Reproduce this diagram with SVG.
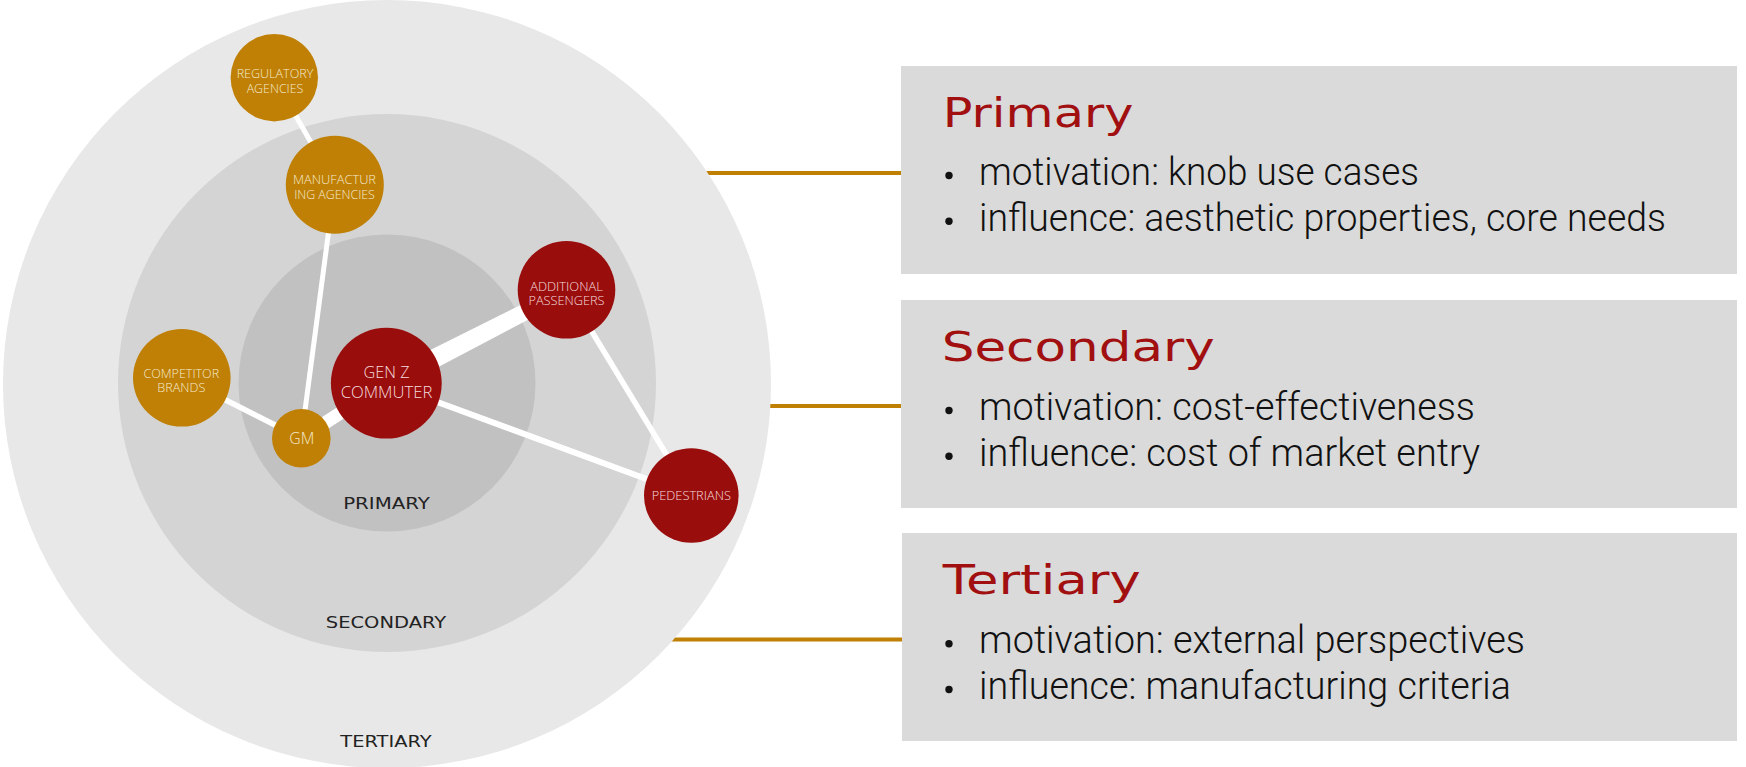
<svg xmlns="http://www.w3.org/2000/svg" width="1746" height="767" viewBox="0 0 1746 767">
<style>
.lead{stroke:#C08004;stroke-width:4;fill:none}
.conn{stroke:#ffffff;stroke-linecap:butt;fill:none}
.ring-label{font-family:"DejaVu Sans",sans-serif;font-size:15px;fill:#222222;text-anchor:middle}
.orange{fill:#BF8005}
.red{fill:#9A0D0D}
.nl{font-family:"Open Sans","Noto Sans",sans-serif;font-weight:300;font-size:12.6px;text-anchor:middle}
.on{fill:#F6E9CC}
.rn{fill:#F5DCDC}
.box{fill:#DADADA}
.title{font-family:"DejaVu Sans",sans-serif;font-size:40px;fill:#A10F10}
.bul{font-family:Roboto,"Open Sans",sans-serif;font-weight:300;font-size:38px;fill:#111111}
.dot{fill:#111111}
</style>

<g id="leaders">
<line class="lead" x1="600" y1="173" x2="902" y2="173"/>
<line class="lead" x1="600" y1="406" x2="902" y2="406"/>
<line class="lead" x1="600" y1="639.5" x2="902" y2="639.5"/>
</g>

<g id="rings">
<circle cx="387" cy="384" r="384" fill="#E8E8E8"/>
<circle cx="387" cy="383" r="269" fill="#D4D4D4"/>
<circle cx="387" cy="383" r="148.5" fill="#C2C1C2"/>
<text class="ring-label" x="386.5" y="509.3" textLength="86.7" lengthAdjust="spacingAndGlyphs">PRIMARY</text>
<text class="ring-label" x="386" y="627.7" textLength="120.3" lengthAdjust="spacingAndGlyphs">SECONDARY</text>
<text class="ring-label" x="386" y="746.7" textLength="91.3" lengthAdjust="spacingAndGlyphs">TERTIARY</text>
</g>

<g id="connectors">
<line class="conn" x1="274.3" y1="77.7" x2="334.8" y2="184.7" stroke-width="5"/>
<line class="conn" x1="334.8" y1="184.7" x2="301.3" y2="438.3" stroke-width="5"/>
<line class="conn" x1="181.8" y1="377.8" x2="301.3" y2="438.3" stroke-width="5.5"/>
<line class="conn" x1="301.3" y1="438.3" x2="386.3" y2="383.2" stroke-width="13"/>
<polygon fill="#ffffff" points="381.7,374.3 563.6,283.6 570.4,297.4 390.9,392.1"/>
<line class="conn" x1="386.3" y1="383.2" x2="691.3" y2="495.5" stroke-width="6"/>
<line class="conn" x1="566.5" y1="289.8" x2="691.3" y2="495.5" stroke-width="5.5"/>
</g>

<g id="node-regulatory">
<circle class="orange" cx="274.3" cy="77.7" r="43.7"/>
<text class="nl on" x="275" y="78.3" textLength="76.7" lengthAdjust="spacingAndGlyphs">REGULATORY</text>
<text class="nl on" x="275" y="92.7" textLength="56.7" lengthAdjust="spacingAndGlyphs">AGENCIES</text>
</g>

<g id="node-manufacturing">
<circle class="orange" cx="334.8" cy="184.7" r="49"/>
<text class="nl on" x="334.5" y="184" textLength="83" lengthAdjust="spacingAndGlyphs">MANUFACTUR</text>
<text class="nl on" x="334.5" y="199" textLength="80.7" lengthAdjust="spacingAndGlyphs">ING AGENCIES</text>
</g>

<g id="node-competitor">
<circle class="orange" cx="181.8" cy="377.8" r="48.8"/>
<text class="nl on" x="181.3" y="377.7" textLength="75.7" lengthAdjust="spacingAndGlyphs">COMPETITOR</text>
<text class="nl on" x="181.3" y="392.3" textLength="48" lengthAdjust="spacingAndGlyphs">BRANDS</text>
</g>

<g id="node-gm">
<circle class="orange" cx="301.3" cy="438.3" r="29.3"/>
<text class="nl on" x="301.8" y="444.3" style="font-size:16.8px" textLength="25" lengthAdjust="spacingAndGlyphs">GM</text>
</g>

<g id="node-genz">
<circle class="red" cx="386.3" cy="383.2" r="55.4"/>
<text class="nl rn" x="386.5" y="378.3" style="font-size:16.4px" textLength="46" lengthAdjust="spacingAndGlyphs">GEN Z</text>
<text class="nl rn" x="386.5" y="398.3" style="font-size:16.4px" textLength="91.7" lengthAdjust="spacingAndGlyphs">COMMUTER</text>
</g>

<g id="node-additional">
<circle class="red" cx="566.5" cy="289.8" r="48.8"/>
<text class="nl rn" x="566.5" y="290.5" textLength="72.6" lengthAdjust="spacingAndGlyphs">ADDITIONAL</text>
<text class="nl rn" x="566.5" y="305.2" textLength="76" lengthAdjust="spacingAndGlyphs">PASSENGERS</text>
</g>

<g id="node-pedestrians">
<circle class="red" cx="691.3" cy="495.5" r="47.3"/>
<text class="nl rn" x="691.3" y="500" textLength="79.3" lengthAdjust="spacingAndGlyphs">PEDESTRIANS</text>
</g>

<g id="box-primary">
<rect class="box" x="901" y="66" width="836" height="208"/>
<text class="title" x="942.7" y="126.7" textLength="190.7" lengthAdjust="spacingAndGlyphs">Primary</text>
<circle class="dot" cx="949" cy="175.5" r="3.7"/>
<text class="bul" x="979" y="185" textLength="440" lengthAdjust="spacingAndGlyphs">motivation: knob use cases</text>
<circle class="dot" cx="949" cy="221.2" r="3.7"/>
<text class="bul" x="979" y="230.7" textLength="687" lengthAdjust="spacingAndGlyphs">influence: aesthetic properties, core needs</text>
</g>

<g id="box-secondary">
<rect class="box" x="901" y="300" width="836" height="208"/>
<text class="title" x="941.7" y="360.7" textLength="273" lengthAdjust="spacingAndGlyphs">Secondary</text>
<circle class="dot" cx="949" cy="410.5" r="3.7"/>
<text class="bul" x="979" y="420" textLength="496" lengthAdjust="spacingAndGlyphs">motivation: cost-effectiveness</text>
<circle class="dot" cx="949" cy="456.2" r="3.7"/>
<text class="bul" x="979" y="465.7" textLength="501" lengthAdjust="spacingAndGlyphs">influence: cost of market entry</text>
</g>

<g id="box-tertiary">
<rect class="box" x="902" y="533" width="835" height="208"/>
<text class="title" x="942.7" y="594.3" textLength="198" lengthAdjust="spacingAndGlyphs">Tertiary</text>
<circle class="dot" cx="949" cy="643.8" r="3.7"/>
<text class="bul" x="979" y="653.3" textLength="546" lengthAdjust="spacingAndGlyphs">motivation: external perspectives</text>
<circle class="dot" cx="949" cy="689.5" r="3.7"/>
<text class="bul" x="979" y="699" textLength="532" lengthAdjust="spacingAndGlyphs">influence: manufacturing criteria</text>
</g>
</svg>
